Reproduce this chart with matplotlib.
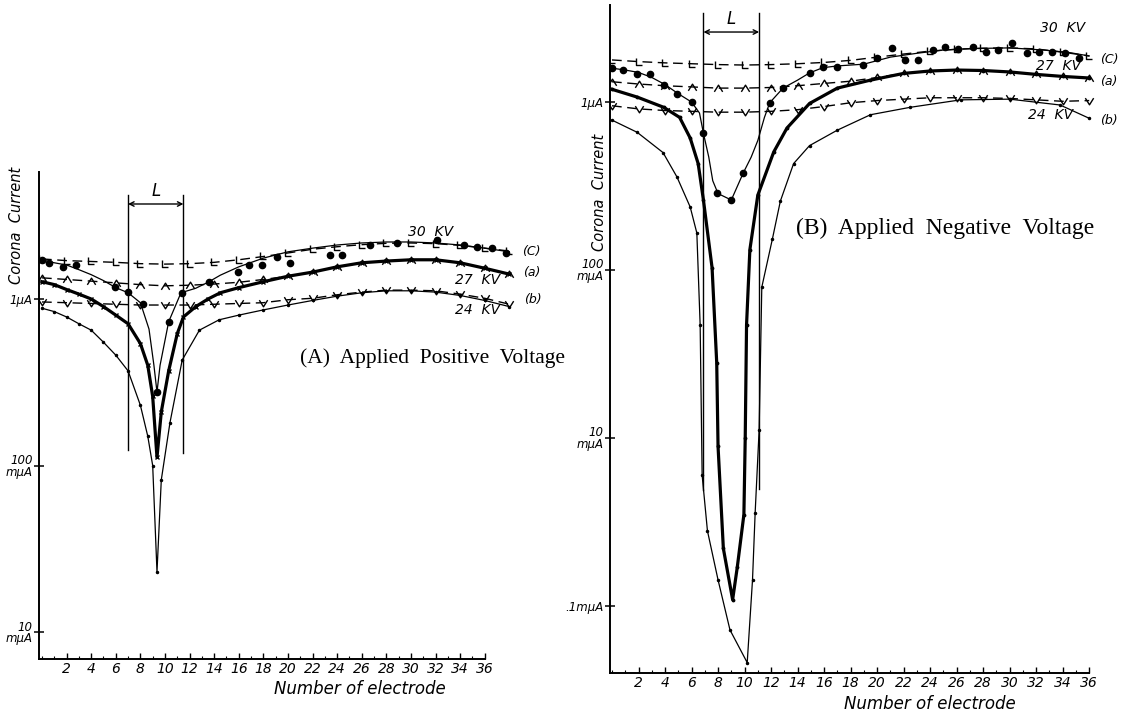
import matplotlib
matplotlib.use("Agg")
import matplotlib.pyplot as plt
from matplotlib.path import Path
from matplotlib.ticker import NullLocator

# ---------------- data (corona current in uA, x = number of electrode) ----------------
# (A) applied positive voltage
a_xd = [0, 2, 4, 6, 8, 10, 12, 14, 16, 18, 20, 22, 24, 26, 28, 30, 32, 34, 36, 38]
a_c_dash = [1.74, 1.70, 1.68, 1.66, 1.63, 1.62, 1.63, 1.66, 1.72, 1.80, 1.89, 1.99, 2.06, 2.12, 2.16, 2.17, 2.15, 2.10, 2.02, 1.94]
a_a_dash = [1.34, 1.31, 1.28, 1.25, 1.22, 1.20, 1.21, 1.23, 1.26, 1.31, 1.37, 1.45, 1.56, 1.65, 1.69, 1.72, 1.72, 1.65, 1.53, 1.41]
a_b_dash = [0.96, 0.95, 0.94, 0.93, 0.92, 0.92, 0.92, 0.93, 0.94, 0.95, 0.99, 1.01, 1.06, 1.10, 1.13, 1.13, 1.12, 1.07, 1.01, 0.93]

a_x30 = [0, 1, 2, 3, 4, 5, 6, 7, 8, 8.7, 9.1, 9.35, 9.6, 10.3, 11.3, 12.5, 13.5, 14.5, 16, 18, 20, 22, 24, 26, 28, 30, 32, 34, 36, 38]
a_v30 = [1.72, 1.65, 1.60, 1.50, 1.40, 1.29, 1.17, 1.09, 0.95, 0.66, 0.40, 0.276, 0.40, 0.73, 1.09, 1.16, 1.26, 1.39, 1.56, 1.76, 1.92, 2.02, 2.11, 2.17, 2.20, 2.20, 2.17, 2.11, 2.02, 1.92]
a_dx30 = [0, 0.6, 1.7, 2.8, 5.9, 7.0, 8.2, 9.35, 10.3, 11.4, 13.6, 15.9, 16.8, 17.9, 19.1, 20.2, 23.4, 24.4, 26.7, 28.9, 32.1, 34.3, 35.4, 36.6, 37.7]
a_dv30 = [1.72, 1.65, 1.56, 1.60, 1.18, 1.10, 0.93, 0.276, 0.73, 1.09, 1.27, 1.45, 1.60, 1.60, 1.79, 1.65, 1.84, 1.84, 2.11, 2.17, 2.26, 2.11, 2.05, 2.02, 1.89]

a_x27 = [0, 1, 2, 3, 4, 5, 6, 7, 8, 8.6, 9.0, 9.35, 9.7, 10.3, 11.0, 11.5, 12.5, 13.5, 14.5, 16, 18, 20, 22, 24, 26, 28, 30, 32, 34, 36, 38]
a_v27 = [1.27, 1.22, 1.14, 1.07, 1.00, 0.90, 0.80, 0.71, 0.54, 0.40, 0.26, 0.112, 0.21, 0.37, 0.62, 0.78, 0.90, 1.00, 1.09, 1.17, 1.27, 1.37, 1.45, 1.56, 1.65, 1.69, 1.72, 1.72, 1.65, 1.53, 1.41]

a_x24 = [0, 1, 2, 3, 4, 5, 6, 7, 8, 8.6, 9.0, 9.35, 9.7, 10.4, 11.4, 12.8, 14.4, 16, 18, 20, 22, 24, 26, 28, 30, 32, 34, 36, 38]
a_v24 = [0.88, 0.84, 0.78, 0.71, 0.65, 0.55, 0.46, 0.37, 0.23, 0.15, 0.10, 0.023, 0.082, 0.18, 0.43, 0.65, 0.75, 0.80, 0.86, 0.92, 0.98, 1.04, 1.09, 1.12, 1.12, 1.10, 1.05, 0.98, 0.90]

a_L = [7.0, 11.5]

# (B) applied negative voltage
b_xd = [0, 2, 4, 6, 8, 10, 12, 14, 16, 18, 20, 22, 24, 26, 28, 30, 32, 34, 36]
b_c_dash = [1.78, 1.74, 1.71, 1.69, 1.67, 1.66, 1.67, 1.69, 1.72, 1.77, 1.85, 1.93, 2.01, 2.06, 2.09, 2.10, 2.07, 1.98, 1.88]
b_a_dash = [1.32, 1.28, 1.25, 1.23, 1.21, 1.21, 1.22, 1.25, 1.29, 1.33, 1.40, 1.48, 1.53, 1.55, 1.54, 1.51, 1.46, 1.42, 1.39]
b_b_dash = [0.95, 0.91, 0.89, 0.88, 0.87, 0.87, 0.88, 0.90, 0.94, 0.99, 1.02, 1.04, 1.06, 1.06, 1.06, 1.05, 1.03, 1.01, 1.02]

b_x30 = [0, 1, 2, 3, 4, 5, 6, 6.6, 6.9, 7.3, 7.6, 8.0, 9.0, 9.9, 10.5, 11.0, 11.5, 11.9, 12.9, 14.0, 14.9, 15.9, 17.0, 19, 21, 23, 25, 27, 30, 32.5, 34.5, 36]
b_v30 = [1.59, 1.55, 1.50, 1.40, 1.27, 1.12, 1.00, 0.86, 0.65, 0.47, 0.34, 0.285, 0.261, 0.378, 0.47, 0.59, 0.81, 0.99, 1.21, 1.35, 1.49, 1.60, 1.64, 1.68, 1.85, 1.95, 2.04, 2.08, 2.10, 2.04, 1.97, 1.88]
b_dx30 = [0, 0.8, 1.9, 2.9, 3.9, 4.9, 6.0, 6.9, 7.9, 9.0, 9.9, 11.9, 12.9, 14.9, 15.9, 17.0, 18.9, 20.0, 21.1, 22.1, 23.1, 24.2, 25.1, 26.1, 27.2, 28.2, 29.1, 30.2, 31.3, 32.2, 33.2, 34.2, 35.2]
b_dv30 = [1.59, 1.55, 1.47, 1.47, 1.26, 1.12, 1.00, 0.65, 0.287, 0.261, 0.378, 0.99, 1.21, 1.49, 1.62, 1.62, 1.66, 1.83, 2.10, 1.78, 1.78, 2.04, 2.13, 2.07, 2.13, 1.98, 2.04, 2.24, 1.96, 1.98, 1.98, 1.96, 1.83]

b_x27 = [0, 1.9, 3.9, 5.1, 5.9, 6.5, 6.9, 7.55, 7.9, 8.0, 8.4, 9.1, 9.45, 9.95, 10.05, 10.15, 10.4, 11.0, 12.2, 13.2, 14.9, 17.0, 19.5, 22, 24, 26, 28, 30, 32, 34, 36]
b_v27 = [1.19, 1.07, 0.93, 0.81, 0.61, 0.43, 0.26, 0.103, 0.028, 0.0089, 0.0022, 0.00109, 0.0017, 0.0035, 0.010, 0.047, 0.132, 0.279, 0.504, 0.70, 0.98, 1.21, 1.35, 1.48, 1.53, 1.55, 1.54, 1.51, 1.46, 1.42, 1.39]

b_x24 = [0, 1.9, 3.85, 4.9, 5.9, 6.4, 6.65, 6.8, 7.2, 8.0, 8.9, 10.2, 10.6, 10.8, 11.1, 11.3, 12.1, 12.7, 13.7, 14.9, 17, 19.5, 22.5, 26.3, 30, 33.8, 36]
b_v24 = [0.78, 0.66, 0.50, 0.358, 0.237, 0.166, 0.047, 0.006, 0.0028, 0.00143, 0.00072, 0.00046, 0.00143, 0.0036, 0.0112, 0.079, 0.153, 0.257, 0.43, 0.55, 0.68, 0.84, 0.93, 1.03, 1.04, 0.96, 0.80]

b_L = [6.9, 11.1]

x_ticks = list(range(2, 37, 2))
a_yticks = [1, 0.1, 0.01]
a_ylabels = ["1μA", "100\nmμA", "10\nmμA"]
b_yticks = [1, 0.1, 0.01, 0.001]
b_ylabels = ["1μA", "100\nmμA", "10\nmμA", ".1mμA"]

# ---------------- styles ----------------
W, H = 1129, 713
HAND = dict(family="DejaVu Sans", style="italic")
m_L = Path([(-0.5, 0.6), (-0.5, -0.4), (0.5, -0.4)], [Path.MOVETO, Path.LINETO, Path.LINETO])
m_up = Path([(-0.5, -0.4), (0, 0.4), (0.5, -0.4)], [Path.MOVETO, Path.LINETO, Path.LINETO])
m_dn = Path([(-0.5, 0.4), (0, -0.4), (0.5, 0.4)], [Path.MOVETO, Path.LINETO, Path.LINETO])

fig = plt.figure(figsize=(W / 100, H / 100), dpi=100)
fig.patch.set_facecolor("white")


def px(x0, y0, x1, y1):
    return [x0 / W, 1 - y1 / H, (x1 - x0) / W, (y1 - y0) / H]


def panel(rect, xlim, ylim, xend):
    ax = fig.add_axes(rect)
    ax.set_yscale("log")
    ax.set_xlim(*xlim)
    ax.set_ylim(*ylim)
    for s in ("top", "right"):
        ax.spines[s].set_visible(False)
    ax.spines["left"].set_linewidth(1.4)
    ax.spines["bottom"].set_linewidth(1.4)
    ax.spines["bottom"].set_bounds(xlim[0], xend)
    ax.set_xticks(x_ticks)
    ax.set_xticks(range(0, 37), minor=True)
    ax.set_xticklabels([str(t) for t in x_ticks], fontsize=10, **HAND)
    ax.tick_params(axis="x", which="major", direction="in", length=4, width=1, pad=2)
    ax.tick_params(axis="x", which="minor", direction="in", length=2.5, width=0.8)
    ax.yaxis.set_minor_locator(NullLocator())
    ax.tick_params(axis="y", direction="inout", length=7, width=1.1, pad=1)
    ax.patch.set_alpha(0)
    return ax


def curves(ax, xd, c, a, b, x30, v30, dx30, dv30, x27, v27, x24, v24, thick_marker):
    dash = dict(color="black", lw=1.0, dashes=(7, 4), ms=6, mfc="none", mew=1.0)
    ax.plot(xd, c, marker=m_L, **dash)
    ax.plot(xd, a, marker=m_up, **dash)
    ax.plot(xd, b, marker=m_dn, **dash)
    ax.plot(x30, v30, color="black", lw=0.9)
    ax.plot(dx30, dv30, "o", color="black", ms=4.5, ls="none")
    ax.plot(x27, v27, color="black", lw=2.3, marker=thick_marker, ms=3.5, mew=1)
    ax.plot(x24, v24, color="black", lw=0.9, marker=".", ms=3)


def bracket(ax, xs, top, bottoms, yarrow, ylab):
    for x, bot in zip(xs, bottoms):
        ax.plot([x, x], [bot, top], color="black", lw=1.0)
    ax.annotate("", xy=(xs[0], yarrow), xytext=(xs[1], yarrow),
                arrowprops=dict(arrowstyle="<->", lw=1.0, color="black",
                                shrinkA=0, shrinkB=0, mutation_scale=8))
    ax.text(sum(xs) / 2, ylab, "L", ha="center", va="bottom", fontsize=12, **HAND)


# ---------------- panel A ----------------
axA = panel(px(39, 172, 545, 659), (-0.244, 40.9), (0.006887, 5.79), 36)
axA.set_yticks(a_yticks)
axA.set_yticklabels(a_ylabels, fontsize=8.5, linespacing=0.85, **HAND)
curves(axA, a_xd, a_c_dash, a_a_dash, a_b_dash, a_x30, a_v30, a_dx30, a_dv30,
       a_x27, a_v27, a_x24, a_v24, "x")
bracket(axA, a_L, 4.2, [0.124, 0.119], 3.72, 3.95)
for x, y, t in [(31.6, 2.53, "30  KV"), (35.4, 1.30, "27  KV"), (35.4, 0.86, "24  KV")]:
    axA.text(x, y, t, ha="center", va="center", fontsize=10, **HAND)
for x, y, t in [(39.8, 1.92, "(C)"), (39.8, 1.45, "(a)"), (39.9, 0.99, "(b)")]:
    axA.text(x, y, t, ha="center", va="center", fontsize=9, **HAND)

# ---------------- panel B ----------------
axB = panel(px(610, 5, 1125, 673), (-0.151, 38.7), (3.99e-4, 3.78), 36)
axB.set_yticks(b_yticks)
axB.set_yticklabels(b_ylabels, fontsize=8.5, linespacing=0.85, **HAND)
curves(axB, b_xd, b_c_dash, b_a_dash, b_b_dash, b_x30, b_v30, b_dx30, b_dv30,
       b_x27, b_v27, b_x24, b_v24, ".")
bracket(axB, b_L, 3.39, [0.0049, 0.0050], 2.61, 2.75)
for x, y, t in [(34.0, 2.76, "30  KV"), (33.7, 1.64, "27  KV"), (33.1, 0.84, "24  KV")]:
    axB.text(x, y, t, ha="center", va="center", fontsize=10, **HAND)
for x, y, t in [(37.5, 1.80, "(C)"), (37.5, 1.32, "(a)"), (37.5, 0.78, "(b)")]:
    axB.text(x, y, t, ha="center", va="center", fontsize=9, **HAND)

# ---------------- texts ----------------
fig.text(17 / W, 1 - 225 / H, "Corona  Current", rotation=90, ha="center", va="center",
         fontsize=10.5, **HAND)
fig.text(599 / W, 1 - 192 / H, "Corona  Current", rotation=90, ha="center", va="center",
         fontsize=10.5, **HAND)
fig.text(360 / W, 1 - 689 / H, "Number of electrode", ha="center", va="center",
         fontsize=12, **HAND)
fig.text(930 / W, 1 - 704 / H, "Number of electrode", ha="center", va="center",
         fontsize=12, **HAND)
fig.text(432 / W, 1 - 358 / H, "(A)  Applied  Positive  Voltage", ha="center", va="center",
         fontsize=15.5, family="Liberation Serif")
fig.text(945 / W, 1 - 228 / H, "(B)  Applied  Negative  Voltage", ha="center", va="center",
         fontsize=17, family="Liberation Serif")

fig.savefig("out.png", dpi=100, facecolor="white")
